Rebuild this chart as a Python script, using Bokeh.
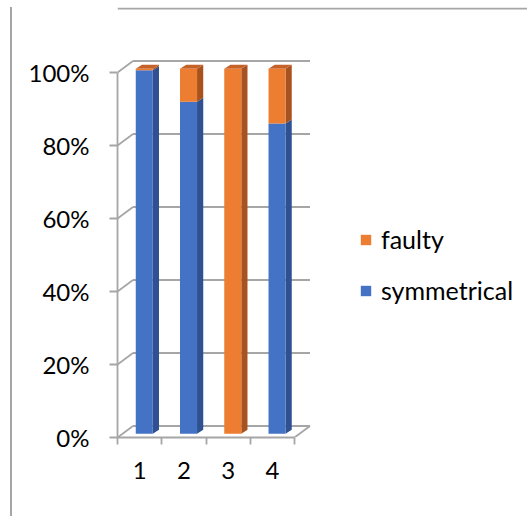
from bokeh.plotting import figure
from bokeh.models import Range1d, FixedTicker, Legend, LegendItem, BoxAnnotation
from bokeh.embed import file_html
from bokeh.resources import INLINE

# ---- data ----
categories = ["1", "2", "3", "4"]
symmetrical = [99.6, 91, 0, 85]
faulty = [0.4, 9, 100, 15]
y_ticks = [0, 20, 40, 60, 80, 100]
y_tick_labels = ["0%", "20%", "40%", "60%", "80%", "100%"]

# ---- style / 3D geometry (data units) ----
BLUE, BLUE_SIDE, BLUE_TOP = "#4472C4", "#2F5091", "#3A63AC"
ORANGE, ORANGE_SIDE, ORANGE_TOP = "#ED7D31", "#A8531F", "#C4622A"
GRID = "#A6A6A6"
FONT = "Lato"
wx, wy = 0.35, 3.15          # wall depth
bx, by = 0.105, 1.0          # bar front offset
ddx, ddy = 0.14, 1.1         # bar depth
bw = 0.385                   # bar width

W, H = 517, 509
X0, X1 = 0.5, 9.81
Y0, Y1 = 0, 117.81
p = figure(width=W, height=H, output_backend="svg", toolbar_location=None,
           x_range=Range1d(X0, X1), y_range=Range1d(Y0, Y1),
           min_border_left=105, min_border_right=0, min_border_top=0,
           min_border_bottom=79,
           styles={"margin-left": "10px", "margin-top": "7px",
                   "border-left": "2px solid #A6A6A6"})
p.outline_line_color = None
p.grid.visible = False
p.background_fill_color = "white"

# top edge of the chart-area box (2px strip at the top of the frame)
p.add_layout(BoxAnnotation(left=X0, right=X1, top=Y1, bottom=Y1 - 2 / 3.65,
                           fill_color=GRID, fill_alpha=1, line_color=None,
                           level="overlay"))

# axes
ya = p.yaxis[0]
ya.ticker = FixedTicker(ticks=y_ticks, minor_ticks=[])
ya.major_label_overrides = {t: l for t, l in zip(y_ticks, y_tick_labels)}
ya.bounds = (0, 100)
ya.axis_line_color = GRID
ya.axis_line_width = 1.8
ya.major_tick_line_color = GRID
ya.major_tick_line_width = 1.8
ya.major_tick_out = 8
ya.major_tick_in = 0
ya.major_label_standoff = 20
ya.major_label_text_font = FONT
ya.major_label_text_font_size = "24px"
ya.major_label_text_color = "#000000"

n = len(categories)
xa = p.xaxis[0]
xa.ticker = FixedTicker(ticks=[i + 1 for i in range(n)],
                        minor_ticks=[i + 0.5 for i in range(n + 1)])
xa.major_label_overrides = {i + 1: c for i, c in enumerate(categories)}
xa.bounds = (0.5, n + 0.5)
xa.axis_line_color = GRID
xa.axis_line_width = 1.8
xa.major_tick_line_color = None
xa.major_tick_out = 0
xa.major_tick_in = 0
xa.minor_tick_line_color = GRID
xa.minor_tick_line_width = 1.8
xa.minor_tick_out = 7
xa.minor_tick_in = 0
xa.major_label_standoff = 17
xa.major_label_text_font = FONT
xa.major_label_text_font_size = "24px"
xa.major_label_text_color = "#000000"

# gridlines (back wall + left wall diagonals + floor)
gx0, gx1, gy0, gy1 = [], [], [], []
for t in y_ticks:
    gx0 += [0.5 + wx, 0.5]
    gx1 += [n + 0.5 + wx, 0.5 + wx]
    gy0 += [t + wy, t]
    gy1 += [t + wy, t + wy]
gx0.append(n + 0.5); gy0.append(0); gx1.append(n + 0.5 + wx); gy1.append(wy)
p.segment(x0=gx0, y0=gy0, x1=gx1, y1=gy1, line_color=GRID, line_width=1.8)

# bars
series = [("symmetrical", symmetrical, BLUE, BLUE_SIDE, BLUE_TOP),
          ("faulty", faulty, ORANGE, ORANGE_SIDE, ORANGE_TOP)]
base = [0.0] * n
tops = [s + f for s, f in zip(symmetrical, faulty)]
front_renderers = {}
for name, vals, cf, cs, ct in series:
    fx, fy, sx, sy, tx, ty = [], [], [], [], [], []
    for i in range(n):
        v = vals[i]
        if v <= 0:
            continue
        y0 = base[i] + by
        y1 = base[i] + v + by
        x0 = i + 1 - bw / 2 + bx
        x1 = i + 1 + bw / 2 + bx
        fx.append([x0, x1, x1, x0]); fy.append([y0, y0, y1, y1])
        sx.append([x1, x1 + ddx, x1 + ddx, x1]); sy.append([y0, y0 + ddy, y1 + ddy, y1])
        if abs(base[i] + v - tops[i]) < 1e-9:
            tx.append([x0, x0 + ddx, x1 + ddx, x1]); ty.append([y1, y1 + ddy, y1 + ddy, y1])
        base[i] += v
    p.patches(sx, sy, fill_color=cs, line_color=None)
    if tx:
        p.patches(tx, ty, fill_color=ct, line_color=None)
    front_renderers[name] = p.patches(fx, fy, fill_color=cf, line_color=None)

legend = Legend(items=[LegendItem(label="faulty", renderers=[front_renderers["faulty"]]),
                       LegendItem(label="symmetrical", renderers=[front_renderers["symmetrical"]])],
                location=(242, 132))
legend.margin = 0
legend.padding = 0
legend.border_line_color = None
legend.background_fill_alpha = 0
legend.glyph_width = 13
legend.glyph_height = 13
legend.label_standoff = 9
legend.spacing = 21
legend.label_text_font = FONT
legend.label_text_font_size = "25px"
legend.label_text_color = "#000000"
p.add_layout(legend)

open("out.html", "w").write(file_html(p, INLINE))
